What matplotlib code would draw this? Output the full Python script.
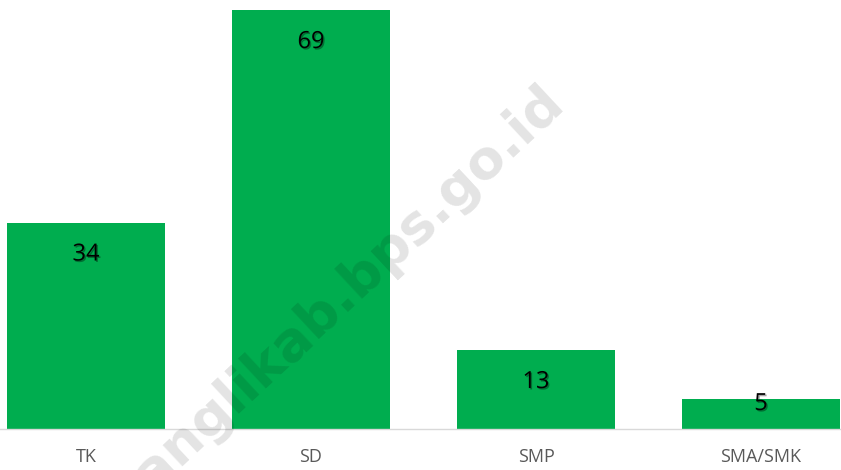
import matplotlib.pyplot as plt
import matplotlib.patheffects as pe

categories = ['TK', 'SD', 'SMP', 'SMA/SMK']
values = [34, 69, 13, 5]
watermark = 'banglikab.bps.go.id'

bar_color = '#00ad4f'

fig = plt.figure(figsize=(8.41, 4.70), dpi=100)
ax = fig.add_axes([0, 1 - 429 / 470, 1, (429 - 10) / 470])

x = list(range(len(categories)))
ax.bar(x, values, width=0.702, color=bar_color, zorder=2)

ax.set_xlim(-86 / 225, (841 - 86) / 225)
ax.set_ylim(0, 69)

for spine in ['top', 'right', 'left']:
    ax.spines[spine].set_visible(False)
ax.spines['bottom'].set_color('#d9d9d9')
ax.spines['bottom'].set_linewidth(1)
ax.set_yticks([])
ax.set_xticks(x)
ax.set_xticklabels(categories, fontsize=13, color='#595959', family='Open Sans')
ax.tick_params(axis='x', length=0, pad=14)

px_per_unit = 419 / 69
for xi, v in zip(x, values):
    off_px = min(32, v * px_per_unit - 25)
    ax.annotate(str(v), (xi, v), xytext=(0, -off_px * 0.72), textcoords='offset points',
                ha='center', va='center', fontsize=17, family='Open Sans', color='black',
                zorder=4,
                path_effects=[pe.withSimplePatchShadow(offset=(1, -1), alpha=0.35, shadow_rgbFace='black')])

# watermark (runs off the bottom edge, as in the original)
fig.text(335 / 841, 1 - 300 / 470, watermark, rotation=43, ha='center', va='center',
         fontsize=39, fontweight='bold', family='DejaVu Sans', color='black', alpha=0.11,
         zorder=5)

fig.savefig('out.png', dpi=100)
